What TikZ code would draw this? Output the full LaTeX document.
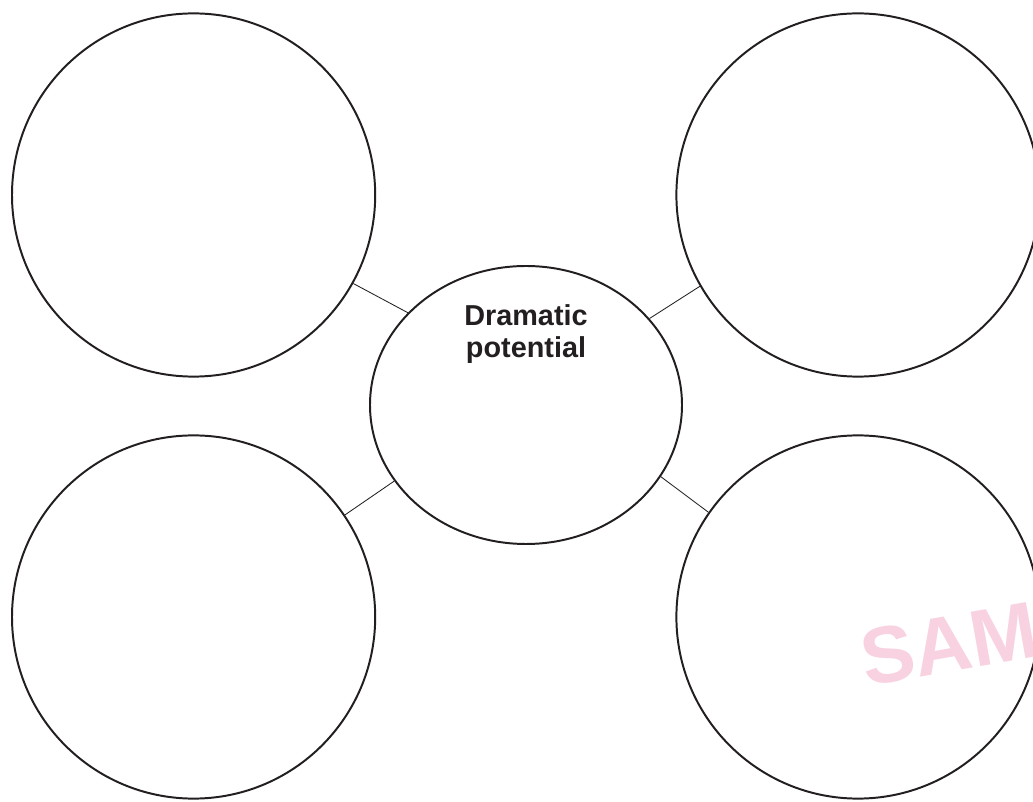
\documentclass[tikz,border=0pt]{standalone}
\usepackage{fontspec}
\setmainfont{Liberation Sans}
\usepackage{tikz}
\usepackage{xcolor}
\usetikzlibrary{
  positioning, shapes.geometric, calc,
}
\definecolor{cInk}   {HTML}{231F20}
\definecolor{cStamp} {HTML}{F8D2E1}

\begin{document}
\begin{tikzpicture}[
    bubble/.style={circle, draw=cInk, line width=1.4pt, minimum size=90.8mm, inner sep=0pt},
    hub/.style={ellipse, draw=cInk, line width=1.4pt, minimum width=78mm, minimum height=69.5mm, inner sep=0pt},
    link/.style={draw=cInk, line width=0.6pt},
  ]
        \useasboundingbox (0, 0) rectangle (258.25mm, 200.25mm);
        % watermark behind everything
        \node[font=\bfseries\fontsize{57}{57}\selectfont, text=cStamp, rotate=10, anchor=base west, inner sep=0pt]
              (stamp) at (216.5mm, 28.6mm) {SAM};
        \node[hub]    (hub) at (131.5mm, 99mm) {};
        \node[bubble] (tl)  at (48.4mm, 151.5mm) {};
        \node[bubble] (tr)  at (214.5mm, 151.5mm) {};
        \node[bubble] (bl)  at (48.4mm, 46mm) {};
        \node[bubble] (br)  at (214.5mm, 46mm) {};
        \node[font=\bfseries\fontsize{20.5}{22.8}\selectfont, text=cInk, align=center]
              (title) at (131.5mm, 116.75mm) {Dramatic\\potential};
        \draw[link] (tl.-29)  -- (hub.142);
        \draw[link] (tr.210)  -- (hub.35);
        \draw[link] (bl.34)   -- (hub.210);
        \draw[link] (br.145)  -- (hub.-28);
      \end{tikzpicture}
\end{document}
